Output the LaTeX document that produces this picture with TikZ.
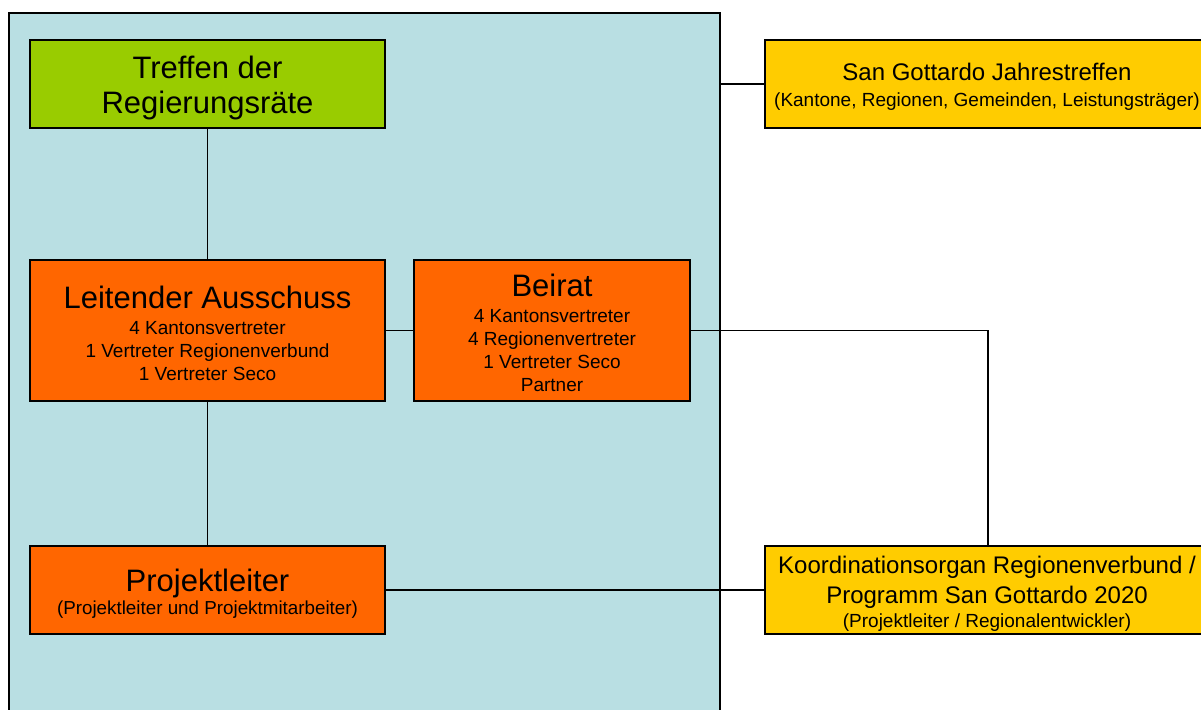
\documentclass[tikz,border=0pt]{standalone}
\usepackage{fontspec}
\setmainfont{Liberation Sans}
\definecolor{panelblue}{RGB}{185,223,227}
\definecolor{boxgreen}{RGB}{153,204,0}
\definecolor{boxorange}{RGB}{255,102,0}
\definecolor{boxyellow}{RGB}{255,204,0}
\newcommand{\fsTitle}{\fontsize{31}{35}\selectfont}
\newcommand{\fsSmall}{\fontsize{19}{23}\selectfont}
\newcommand{\fsSub}{\fontsize{18.8}{22}\selectfont}
\newcommand{\fsMid}{\fontsize{24}{30}\selectfont}
\begin{document}
\begin{tikzpicture}[x=1pt,y=-1pt,
  box/.style={draw=black,line width=1.5pt,inner sep=0pt,outer sep=0pt,rectangle},
  txt/.style={anchor=base,inner sep=0pt,outer sep=0pt,text=black},
  conn/.style={draw=black,line width=1.5pt}]
\useasboundingbox (0,0) rectangle (1201,709);
\clip (0,0) rectangle (1201,709);
% panel
\node[box,fill=panelblue,minimum width=711pt,minimum height=730pt,anchor=north west] (panel) at (9,13) {};
% boxes
\node[box,fill=boxgreen,minimum width=355pt,minimum height=88pt] (tr) at (207.5,84) {};
\node[box,fill=boxorange,minimum width=355pt,minimum height=141pt] (la) at (207.5,330.5) {};
\node[box,fill=boxorange,minimum width=276pt,minimum height=141pt] (be) at (552,330.5) {};
\node[box,fill=boxorange,minimum width=355pt,minimum height=88pt] (pl) at (207.5,590) {};
\node[box,fill=boxyellow,minimum width=446pt,minimum height=88pt] (sg) at (988,84) {};
\node[box,fill=boxyellow,minimum width=446pt,minimum height=88pt] (ko) at (988,590) {};
% connectors
\draw[conn] (tr.south) -- (la.north);
\draw[conn] (la.south) -- (pl.north);
\draw[conn] (la.east) -- (be.west);
\draw[conn] (be.east) -| (ko.north);
\draw[conn] (pl.east) -- (ko.west);
\draw[conn] (panel.east |- sg.west) -- (sg.west);
% texts
\node[txt] (tr1) at (207.5,78) {\fsTitle Treffen der};
\node[txt] (tr2) at (207.5,113) {\fsTitle Regierungsräte};
\node[txt] (la1) at (207.5,308) {\fsTitle Leitender Ausschuss};
\node[txt] (la2) at (207.5,334) {\fsSmall 4 Kantonsvertreter};
\node[txt] (la3) at (207.5,357) {\fsSmall 1 Vertreter Regionenverbund};
\node[txt] (la4) at (207.5,380) {\fsSmall 1 Vertreter Seco};
\node[txt] (be1) at (552,296) {\fsTitle Beirat};
\node[txt] (be2) at (552,322) {\fsSmall 4 Kantonsvertreter};
\node[txt] (be3) at (552,345) {\fsSmall 4 Regionenvertreter};
\node[txt] (be4) at (552,368) {\fsSmall 1 Vertreter Seco};
\node[txt] (be5) at (552,391) {\fsSmall Partner};
\node[txt] (pl1) at (207.5,591) {\fsTitle Projektleiter};
\node[txt] (pl2) at (207.5,614) {\fsSub (Projektleiter und Projektmitarbeiter)};
\node[txt] (sg1) at (987,81) {\fsMid San Gottardo Jahrestreffen};
\node[txt] (sg2) at (987,106) {\fontsize{19}{22}\selectfont (Kantone, Regionen, Gemeinden, Leistungsträger)};
\node[txt] (ko1) at (987,573) {\fsMid Koordinationsorgan Regionenverbund /};
\node[txt] (ko2) at (987,603) {\fsMid Programm San Gottardo 2020};
\node[txt] (ko3) at (987,627) {\fontsize{19}{22}\selectfont (Projektleiter / Regionalentwickler)};
\end{tikzpicture}
\end{document}
